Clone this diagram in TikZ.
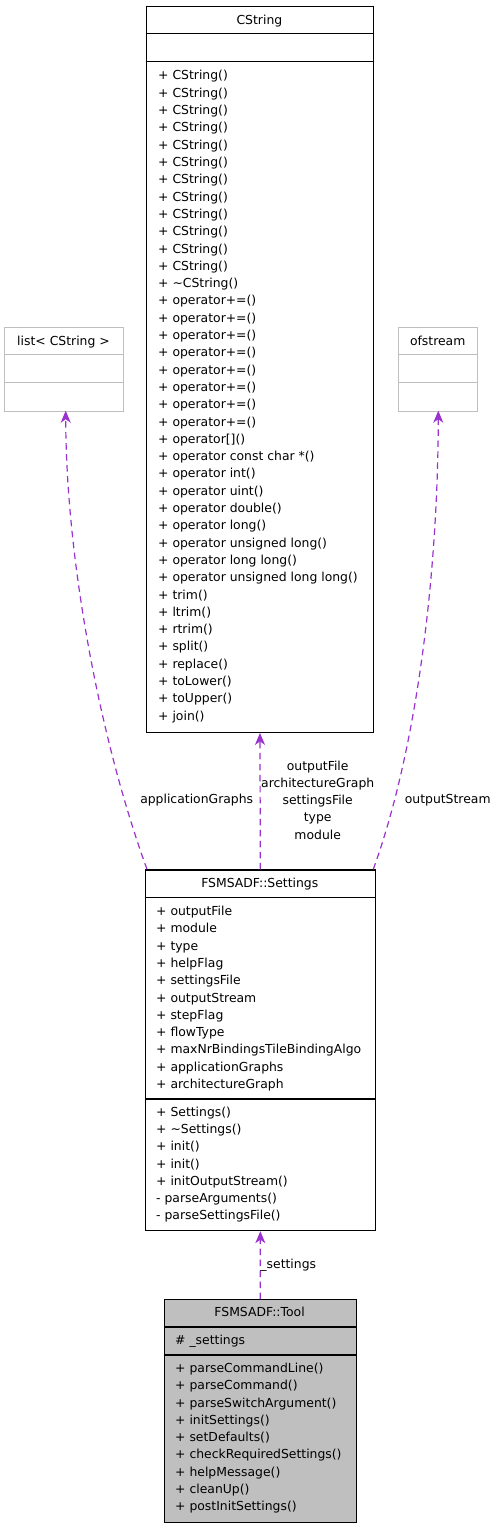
\documentclass[tikz,border=0pt]{standalone}
\usepackage{fontspec}
\setmainfont{DejaVu Sans}
\usetikzlibrary{arrows.meta}
\definecolor{edgec}{HTML}{9A32CD}
\definecolor{grayb}{HTML}{BFBFBF}
\begin{document}
\begin{tikzpicture}[x=1pt,y=-1pt,
  font=\fontsize{12.4}{17.2}\selectfont,
  cls/.style={draw=black, line width=1.2pt, rectangle, inner sep=0pt, anchor=north west},
  gcls/.style={draw=grayb, line width=1pt, rectangle, inner sep=0pt, anchor=north west},
  sepl/.style={draw=black, line width=1.2pt},
  gsepl/.style={draw=grayb, line width=1pt},
  txt/.style={anchor=base west, inner sep=0pt},
  ttl/.style={anchor=base, inner sep=0pt},
  lbl/.style={inner sep=0pt, align=center},
  dep/.style={draw=edgec, line width=1.2pt, dash pattern=on 6.5pt off 4.5pt,
    -{Stealth[length=12pt, width=10pt, inset=3.5pt]}}
]
\useasboundingbox (0,0) rectangle (499,1528);

% ---------- CString ----------
\node[cls, minimum width=226.7pt, minimum height=725.7pt] (cstr) at (146,6) {};
\draw[sepl] (146,33.3) -- (372.7,33.3);
\draw[sepl] (146,61.7) -- (372.7,61.7);
\node[ttl] (cstrT) at (259.4,24.5) {CString};
\foreach \t [count=\i from 0] in {
 + CString(), + CString(), + CString(), + CString(), + CString(), + CString(),
 + CString(), + CString(), + CString(), + CString(), + CString(), + CString(),
 + \textasciitilde CString(),
 + operator+=(), + operator+=(), + operator+=(), + operator+=(),
 + operator+=(), + operator+=(), + operator+=(), + operator+=(),
 + operator[](), + operator const char *(), + operator int(), + operator uint(),
 + operator double(), + operator long(), + operator unsigned long(),
 + operator long long(), + operator unsigned long long(),
 + trim(), + ltrim(), + rtrim(), + split(), + replace(), + toLower(), + toUpper(), + join()}
 {\node[txt] (cm\i) at (158,{80+17.3*\i}) {\t};}

% ---------- list< CString > ----------
\node[gcls, minimum width=118.4pt, minimum height=83.4pt] (lst) at (4.3,327.3) {};
\draw[gsepl] (4.3,354.3) -- (122.7,354.3);
\draw[gsepl] (4.3,382.7) -- (122.7,382.7);
\node[ttl] (lstT) at (63.5,345.5) {list< CString >};

% ---------- ofstream ----------
\node[gcls, minimum width=79.3pt, minimum height=83.4pt] (ofs) at (398,327.3) {};
\draw[gsepl] (398,354.3) -- (477.3,354.3);
\draw[gsepl] (398,382.7) -- (477.3,382.7);
\node[ttl] (ofsT) at (437.7,345.5) {ofstream};

% ---------- FSMSADF::Settings ----------
\node[cls, minimum width=230.5pt, minimum height=360.7pt] (set) at (144.5,869.3) {};
\draw[sepl] (144.5,897.5) -- (375,897.5);
\draw[sepl] (144.5,1099) -- (375,1099);
\node[ttl] (setT) at (259.8,887.5) {FSMSADF::Settings};
\foreach \t [count=\i from 0] in {
 + outputFile, + module, + type, + helpFlag, + settingsFile, + outputStream,
 + stepFlag, + flowType, + maxNrBindingsTileBindingAlgo, + applicationGraphs,
 + architectureGraph}
 {\node[txt] (sa\i) at (156,{915.5+17.3*\i}) {\t};}
\foreach \t [count=\i from 0] in {
 + Settings(), + \textasciitilde Settings(), + init(), + init(), + initOutputStream(),
 - parseArguments(), - parseSettingsFile()}
 {\node[txt] (sm\i) at (156,{1116.5+17.2*\i}) {\t};}

% ---------- FSMSADF::Tool ----------
\node[cls, fill=grayb, minimum width=192.2pt, minimum height=222.5pt] (tool) at (163.5,1299) {};
\draw[sepl] (163.5,1327) -- (355.7,1327);
\draw[sepl] (163.5,1355) -- (355.7,1355);
\node[ttl] (toolT) at (259.6,1316.5) {FSMSADF::Tool};
\node[txt] (ta0) at (175,1344.5) {\# \_settings};
\foreach \t [count=\i from 0] in {
 + parseCommandLine(), + parseCommand(), + parseSwitchArgument(), + initSettings(),
 + setDefaults(), + checkRequiredSettings(), + helpMessage(), + cleanUp(),
 + postInitSettings()}
 {\node[txt] (tm\i) at (175,{1372.5+17.25*\i}) {\t};}

% ---------- connectors ----------
\coordinate (appS) at (147,869.3);
\coordinate (appE) at (65.7,410.7);
\coordinate (ostS) at (373.3,869.3);
\coordinate (ostE) at (438.3,410.7);

\draw[dep] (tool.north) -- (set.south);
\draw[dep] (set.north) -- (cstr.south);
\draw[dep] (appS) .. controls (100,740) and (66,560) .. (appE);
\draw[dep] (ostS) .. controls (420,740) and (438,560) .. (ostE);

% ---------- labels ----------
\node[lbl] (lApp) at (196.7,800) {applicationGraphs};
\node[lbl] (lMid) at (317.7,800) {outputFile\\architectureGraph\\settingsFile\\type\\module};
\node[lbl] (lOst) at (447.7,800) {outputStream};
\node[lbl, anchor=base] (lSet) at (288.3,1268.5) {\_settings};
\end{tikzpicture}
\end{document}
